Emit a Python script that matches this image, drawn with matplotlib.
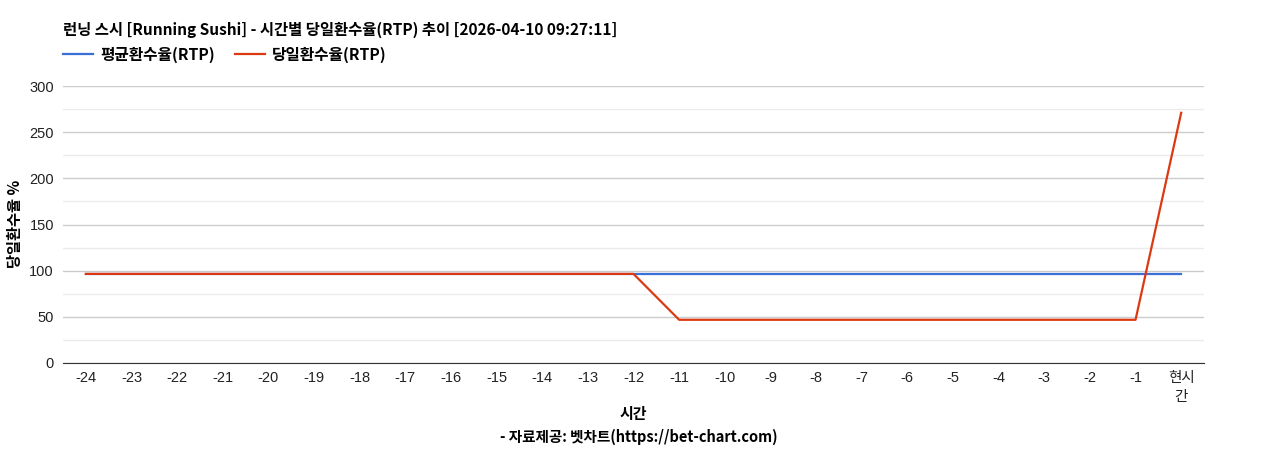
import matplotlib
matplotlib.use("Agg")
import matplotlib.pyplot as plt
import numpy as np

plt.rcParams["font.family"] = ["Noto Sans CJK KR", "DejaVu Sans"]

hours = [str(h) for h in range(-24, 0)] + ["현시\n간"]
avg_rtp = [96.5] * 25
daily_rtp = [96.5] * 13 + [46.8] * 11 + [271]

title = "런닝 스시 [Running Sushi] - 시간별 당일환수율(RTP) 추이 [2026-04-10 09:27:11]"

fig = plt.figure(figsize=(12.68, 4.5), dpi=100)
ax = fig.add_axes([63 / 1268, 1 - 363 / 450, 1141 / 1268, 277 / 450])

x = np.arange(len(hours))
ax.plot(x, avg_rtp, color="#3a6fd8", linewidth=1.6, label="평균환수율(RTP)")
ax.plot(x, daily_rtp, color="#dc3912", linewidth=1.6, label="당일환수율(RTP)")

ax.set_xlim(-0.5, len(hours) - 0.5)
ax.set_ylim(0, 300)
ax.set_yticks(range(0, 301, 50))
ax.set_yticks(range(25, 300, 50), minor=True)
ax.grid(axis="y", which="major", color="#cccccc", linewidth=1)
ax.grid(axis="y", which="minor", color="#ebebeb", linewidth=1)
ax.set_axisbelow(True)
for s in ["top", "right", "left"]:
    ax.spines[s].set_visible(False)
ax.spines["bottom"].set_color("#333333")
ax.tick_params(axis="both", which="both", length=0)
ax.tick_params(axis="y", pad=6.5)
ax.tick_params(axis="x", pad=6)
ax.set_xticks(x)
ax.set_xticklabels(hours, family=["Liberation Sans", "Noto Sans CJK KR"], fontsize=10.5,
                   color="#222222", linespacing=1.45, va="top")
for lab in ax.get_yticklabels():
    lab.set_family(["Liberation Sans"])
    lab.set_fontsize(10.5)
    lab.set_color("#222222")

fig.text(15 / 1268, 1 - 224 / 450, "당일환수율 %", fontsize=11, fontweight="bold",
         rotation=90, ha="center", va="center")

fig.text(63 / 1268, 1 - 30 / 450, title, fontsize=11.1, fontweight="bold", va="center", ha="left")

leg = fig.legend(loc="center left", bbox_to_anchor=(49 / 1268, 1 - 55 / 450), ncol=2, frameon=False,
                 handlelength=1.9, handletextpad=0.45, columnspacing=1.3,
                 prop={"weight": "bold", "size": 11.3})

fig.text(633 / 1268, 1 - 414 / 450, "시간", fontsize=10.8, fontweight="bold", ha="center", va="center")
fig.text(639 / 1268, 1 - 437 / 450, "- 자료제공: 벳차트(https://bet-chart.com)", fontsize=10.5,
         fontweight="bold", ha="center", va="center")

fig.savefig("out.png", dpi=100)
